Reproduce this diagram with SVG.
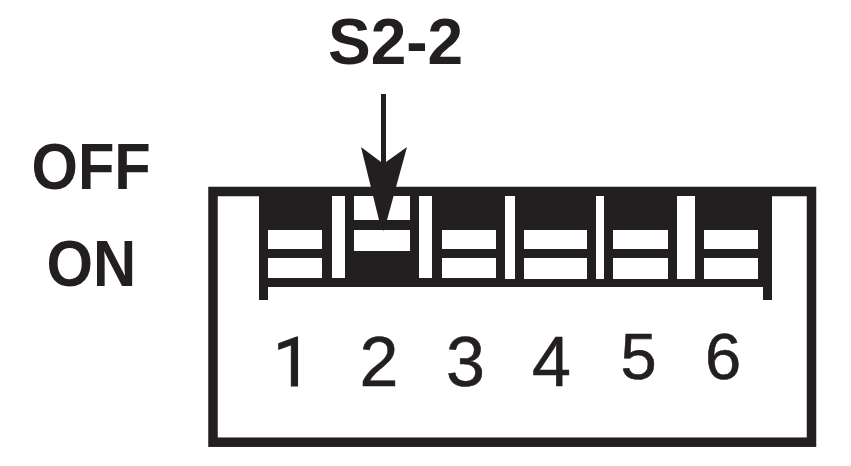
<svg xmlns="http://www.w3.org/2000/svg" width="851" height="466" viewBox="0 0 851 466">
<style>
.k{fill:#231f20}
.w{fill:#fff}
text{fill:#231f20;font-family:"Liberation Sans",Arial,sans-serif}
.b{font-weight:700;font-size:64px}
.n{font-size:70px;text-anchor:middle;stroke:#231f20;stroke-width:.6px}
.m{font-size:65px;text-anchor:middle;stroke:#231f20;stroke-width:.6px}
.r{font-family:Roboto,sans-serif;font-size:69px;stroke:#231f20;stroke-width:1px}
</style>
<rect width="851" height="466" fill="#fff"/>
<g id="housing">
<rect x="213" y="191.500" width="598.500" height="250.700" fill="#fff" stroke="#231f20" stroke-width="9.500"/>
<path class="k" d="M259 196H772V300H763V287H268V300H259Z"/>
</g>
<g id="switch-1"><rect class="w" x="268" y="230" width="54" height="19"/><rect class="w" x="268" y="258" width="54" height="20"/><rect class="w" x="332" y="196" width="13" height="82"/></g>
<g id="switch-2"><rect class="w" x="354" y="196" width="56" height="24"/><rect class="w" x="354" y="230" width="56" height="21"/><rect class="w" x="419" y="196" width="13" height="82"/></g>
<g id="switch-3"><rect class="w" x="442" y="230" width="54" height="19"/><rect class="w" x="442" y="258" width="54" height="20"/><rect class="w" x="505" y="196" width="10" height="83"/></g>
<g id="switch-4"><rect class="w" x="524" y="230" width="63" height="19"/><rect class="w" x="524" y="258" width="63" height="21"/><rect class="w" x="596" y="196" width="8" height="83"/></g>
<g id="switch-5"><rect class="w" x="613" y="230" width="55" height="19"/><rect class="w" x="613" y="258" width="55" height="21"/><rect class="w" x="677" y="196" width="18" height="83"/></g>
<g id="switch-6"><rect class="w" x="704" y="230" width="54" height="19"/><rect class="w" x="704" y="258" width="54" height="21"/></g>
<g id="connectors">
<path class="k" d="M381 94H386V162L407 147L387 220L383.500 231L379 220L361 147L381 162Z"/>
</g>
<g id="labels">
<text class="b" x="328" y="64">S2-2</text>
<text class="b" x="31.500" y="189" textLength="119.300" lengthAdjust="spacingAndGlyphs">OFF</text>
<text class="b" x="46.500" y="286" textLength="89.700" lengthAdjust="spacingAndGlyphs">ON</text>
<text class="r" x="273" y="386">1</text>
<text class="n" x="379" y="386">2</text>
<text class="n" x="465.500" y="386">3</text>
<text class="n" x="551.500" y="386">4</text>
<text class="m" x="638.500" y="379">5</text>
<text class="m" x="723" y="379">6</text>
</g>
</svg>
